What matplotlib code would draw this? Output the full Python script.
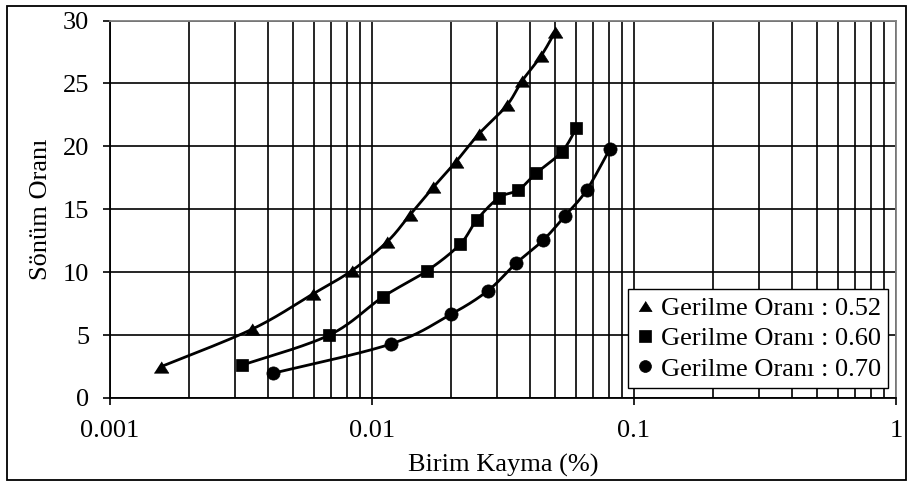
import numpy as np
import matplotlib
matplotlib.use("Agg")
import matplotlib.pyplot as plt
from matplotlib.lines import Line2D
from matplotlib.patches import Rectangle
from matplotlib.ticker import LogLocator, FixedLocator, NullFormatter, FixedFormatter

# ---- data ----
strain_052 = [0.00157, 0.00348, 0.00593, 0.00837, 0.01143, 0.01396, 0.01714,
              0.02092, 0.0256, 0.0327, 0.0374, 0.0442, 0.0500]
damp_052 = [2.5, 5.46, 8.25, 10.12, 12.42, 14.55, 16.75, 18.78, 20.99, 23.25,
            25.2, 27.19, 29.1]

strain_060 = [0.0032, 0.00687, 0.0110, 0.0162, 0.0217, 0.0251, 0.0305, 0.0362,
              0.0423, 0.0531, 0.0601]
damp_060 = [2.62, 5.0, 8.03, 10.1, 12.22, 14.15, 15.92, 16.53, 17.86, 19.58, 21.42]

strain_070 = [0.00418, 0.01179, 0.0200, 0.0277, 0.0355, 0.0451, 0.0545, 0.0660, 0.081]
damp_070 = [1.96, 4.29, 6.65, 8.53, 10.71, 12.56, 14.47, 16.53, 19.82]

labels = ["Gerilme Oranı : 0.52", "Gerilme Oranı : 0.60", "Gerilme Oranı : 0.70"]
x_ticks = [0.001, 0.01, 0.1, 1]
x_ticklabels = ["0.001", "0.01", "0.1", "1"]
y_ticks = [0, 5, 10, 15, 20, 25, 30]
xlabel = "Birim Kayma (%)"
ylabel = "Sönüm Oranı"

plt.rcParams['font.family'] = ['Liberation Serif', 'DejaVu Serif']
FS = 19


def smooth(xs, ys, n=30):
    """Catmull-Rom smoothing in (log10 x, y) space, like Excel's smoothed line."""
    lx = np.log10(np.asarray(xs, float))
    yy = np.asarray(ys, float)
    P = np.column_stack([lx, yy])
    P = np.vstack([P[0], P, P[-1]])
    out = []
    t = np.linspace(0, 1, n)[:, None]
    for i in range(1, len(P) - 2):
        p0, p1, p2, p3 = P[i - 1], P[i], P[i + 1], P[i + 2]
        seg = 0.5 * ((2 * p1) + (-p0 + p2) * t + (2 * p0 - 5 * p1 + 4 * p2 - p3) * t ** 2
                     + (-p0 + 3 * p1 - 3 * p2 + p3) * t ** 3)
        out.append(seg if i == 1 else seg[1:])
    S = np.vstack(out)
    return 10 ** S[:, 0], S[:, 1]


fig = plt.figure(figsize=(9.12, 4.82), dpi=100)
ax = fig.add_axes([110 / 912, 1 - 398 / 482, 786 / 912, 377.5 / 482])

tri = [(-1, -0.78), (1, -0.78), (0, 0.78)]
series = [
    (strain_052, damp_052, tri, 10.5),
    (strain_060, damp_060, 's', 9),
    (strain_070, damp_070, 'o', 9.5),
]
handles = []
for (xs, ys, mk, ms), lab in zip(series, labels):
    sx, sy = smooth(xs, ys)
    ax.plot(sx, sy, color='black', lw=2.0, zorder=3, solid_capstyle='round')
    ax.plot(xs, ys, linestyle='none', marker=mk, markersize=ms, color='black',
            markeredgewidth=0.5, zorder=4)
    handles.append(Line2D([], [], linestyle='none', marker=mk, markersize=ms * 0.9,
                          color='black', markeredgewidth=0.5, label=lab))

ax.set_xscale('log')
ax.set_xlim(0.001, 1)
ax.set_ylim(0, 30)
ax.xaxis.set_major_locator(FixedLocator(x_ticks))
ax.xaxis.set_major_formatter(FixedFormatter(x_ticklabels))
ax.xaxis.set_minor_locator(LogLocator(base=10, subs=np.arange(2, 10)))
ax.xaxis.set_minor_formatter(NullFormatter())
ax.set_yticks(y_ticks)

ax.grid(True, which='both', axis='x', color='black', lw=1.2, zorder=1)
ax.grid(True, which='major', axis='y', color='black', lw=1.2, zorder=1)
ax.set_axisbelow(True)

ax.tick_params(axis='both', which='major', direction='out', length=5, width=1.2,
               labelsize=FS, color='black', labelcolor='black')
ax.tick_params(axis='x', which='major', pad=10.5)
ax.tick_params(axis='y', which='major', pad=10)
ax.tick_params(axis='x', which='minor', length=0)

for s in ['left', 'bottom']:
    ax.spines[s].set_color('black')
    ax.spines[s].set_linewidth(1.3)
for s in ['top', 'right']:
    ax.spines[s].set_color('#808080')
    ax.spines[s].set_linewidth(1.3)

ax.set_xlabel(xlabel, fontsize=FS, labelpad=9)
ax.set_ylabel(ylabel, fontsize=FS, labelpad=8)

leg = ax.legend(handles=handles, loc='lower right', bbox_to_anchor=(0.990, 0.0265),
                borderaxespad=0, fontsize=FS, frameon=True, fancybox=False,
                edgecolor='black', framealpha=1, handlelength=0.7, handletextpad=0.25,
                labelspacing=0.26, borderpad=0.28)
leg.get_frame().set_linewidth(1.0)
leg.set_zorder(5)

fig.patches.append(Rectangle((7 / 912, 1 - 480 / 482), 899 / 912, 474 / 482,
                             transform=fig.transFigure, fill=False,
                             edgecolor='black', lw=1.3))

fig.savefig('out.png', dpi=100)
